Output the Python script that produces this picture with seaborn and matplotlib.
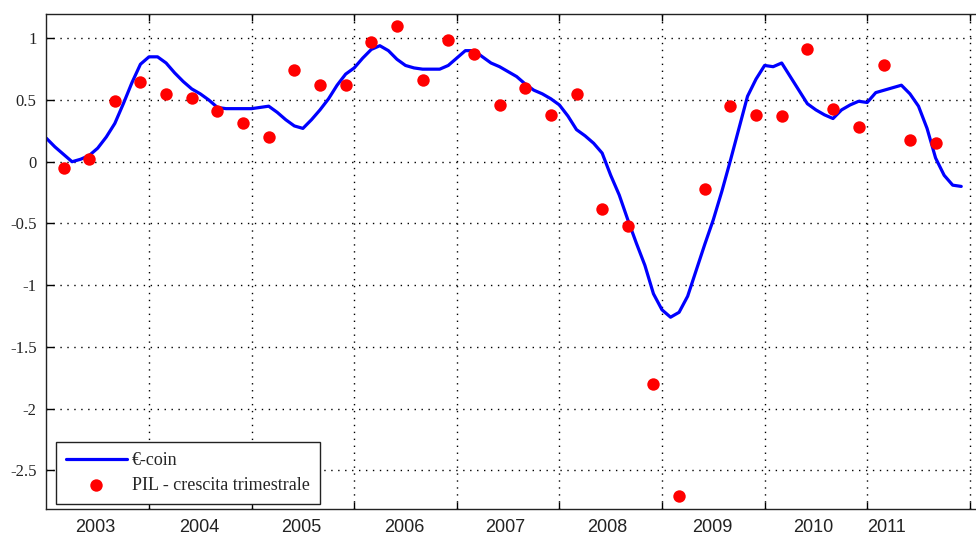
import numpy as np
import pandas as pd
import matplotlib
matplotlib.use("Agg")
import matplotlib.pyplot as plt
import seaborn as sns

# E-coin, monthly, Jan 2003 - Dec 2011
ecoin_2003 = [0.19, 0.12, 0.06, 0.00, 0.02, 0.05, 0.11, 0.20, 0.31, 0.47, 0.64, 0.79]
ecoin_2004 = [0.85, 0.85, 0.80, 0.72, 0.65, 0.59, 0.55, 0.50, 0.44, 0.43, 0.43, 0.43]
ecoin_2005 = [0.43, 0.44, 0.45, 0.40, 0.34, 0.29, 0.27, 0.34, 0.42, 0.51, 0.62, 0.71]
ecoin_2006 = [0.76, 0.84, 0.91, 0.94, 0.90, 0.83, 0.78, 0.76, 0.75, 0.75, 0.75, 0.78]
ecoin_2007 = [0.84, 0.90, 0.90, 0.85, 0.80, 0.77, 0.73, 0.69, 0.63, 0.58, 0.55, 0.51]
ecoin_2008 = [0.46, 0.37, 0.26, 0.21, 0.15, 0.07, -0.11, -0.27, -0.47, -0.66, -0.84, -1.07]
ecoin_2009 = [-1.20, -1.26, -1.22, -1.09, -0.88, -0.67, -0.47, -0.24, 0.01, 0.27, 0.53, 0.67]
ecoin_2010 = [0.78, 0.77, 0.80, 0.69, 0.58, 0.47, 0.42, 0.38, 0.35, 0.42, 0.46, 0.49]
ecoin_2011 = [0.48, 0.56, 0.58, 0.60, 0.62, 0.55, 0.45, 0.27, 0.03, -0.11, -0.19, -0.20]

# PIL quarterly growth, 2003Q1 - 2011Q3
pil_growth = [-0.05, 0.02, 0.49, 0.65,
              0.55, 0.52, 0.41, 0.31,
              0.20, 0.74, 0.62, 0.62,
              0.97, 1.10, 0.66, 0.99,
              0.87, 0.46, 0.60, 0.38,
              0.55, -0.38, -0.52, -1.80,
              -2.71, -0.22, 0.45, 0.38,
              0.37, 0.91, 0.43, 0.28,
              0.78, 0.18, 0.15]

year_labels = ["2003", "2004", "2005", "2006", "2007", "2008", "2009", "2010", "2011"]
year_label_pos = [2003.48, 2004.49, 2005.48, 2006.485, 2007.47, 2008.47, 2009.49, 2010.47, 2011.19]
year_bounds = [2004, 2005, 2006, 2007, 2008, 2009, 2010, 2011, 2012]
y_ticks = [-2.5, -2, -1.5, -1, -0.5, 0, 0.5, 1]
y_ticklabels = ["-2.5", "-2", "-1.5", "-1", "-0.5", "0", "0.5", "1"]

ecoin = (ecoin_2003 + ecoin_2004 + ecoin_2005 + ecoin_2006 + ecoin_2007
         + ecoin_2008 + ecoin_2009 + ecoin_2010 + ecoin_2011)
months = pd.date_range("2003-01-01", periods=len(ecoin), freq="MS")
df_line = pd.DataFrame({"t": months.year + (months.month - 1) / 12, "v": ecoin})

quarters = pd.period_range("2003Q1", periods=len(pil_growth), freq="Q")
df_pts = pd.DataFrame({"t": quarters.year + (3 * quarters.quarter - 1) / 12, "v": pil_growth})

sns.set_style("white")
plt.rcParams["font.family"] = ["Liberation Serif", "DejaVu Serif"]

fig = plt.figure(figsize=(9.76, 5.38), dpi=100)
ax = fig.add_axes([46.4 / 976, 29 / 538, 938.6 / 976, 495 / 538])

sns.lineplot(data=df_line, x="t", y="v", color="#0000ff", linewidth=2.3,
             label="\u20ac-coin", ax=ax)
sns.scatterplot(data=df_pts, x="t", y="v", color="#ff0000", s=80, linewidth=0,
                label="PIL - crescita trimestrale", ax=ax, zorder=3)

ax.set_xlim(2003.0, 2003.0 + 938.6 / 102.6)
ax.set_ylim(-2.814, 1.197)
ax.set_xlabel("")
ax.set_ylabel("")

ax.set_xticks(year_bounds)
ax.set_xticklabels([])
ax.set_xticks(year_label_pos, minor=True)
ax.set_xticklabels(year_labels, minor=True, fontfamily="Liberation Sans", fontsize=13)
ax.tick_params(axis="x", which="major", direction="in", length=5, width=1,
               top=True, bottom=True, color="black")
ax.tick_params(axis="x", which="minor", length=0, pad=7, labelcolor="#222222")

ax.set_yticks(y_ticks)
ax.set_yticklabels(y_ticklabels, fontsize=12)
ax.tick_params(axis="y", direction="in", length=6, width=1, left=True, pad=7,
               color="black", labelcolor="#222222")

ax.grid(True, which="major", color="black", linestyle=(0, (1, 4)), linewidth=1.0)
for side in ["left", "top", "bottom", "right"]:
    ax.spines[side].set_color("#222222")
    ax.spines[side].set_linewidth(1.0)

leg = ax.legend(loc="lower left", bbox_to_anchor=(0.0102, 0.0101), borderaxespad=0,
                fontsize=13, frameon=True, fancybox=False, edgecolor="#222222",
                framealpha=1, handlelength=3.38, handletextpad=0.28, labelspacing=0.45,
                borderpad=0.55)
leg.get_frame().set_linewidth(1.0)

fig.savefig("out.png", dpi=100)
